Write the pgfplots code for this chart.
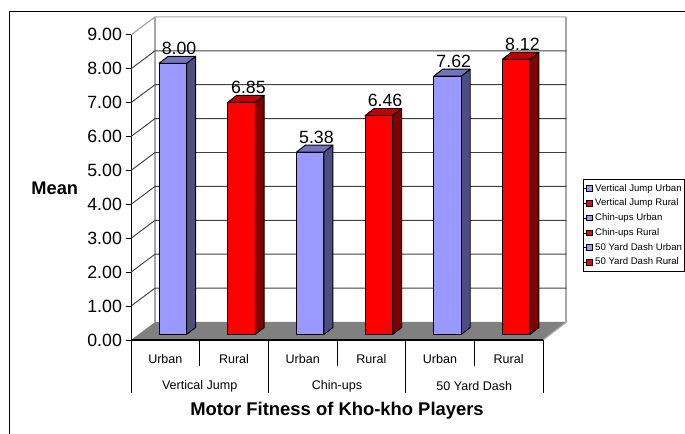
\documentclass[border=0pt]{standalone}
\usepackage{pgfplots}
\pgfplotsset{compat=1.18}
\usepackage{fontspec}
\setmainfont{Liberation Sans}
\definecolor{urbF}{HTML}{9999FF}
\definecolor{urbS}{HTML}{4D4D80}
\definecolor{urbT}{HTML}{7373BF}
\definecolor{rurF}{HTML}{FF0000}
\definecolor{rurS}{HTML}{800000}
\definecolor{rurT}{HTML}{BF0000}
\definecolor{wallc}{HTML}{A6A6A6}
\definecolor{gridc}{HTML}{404040}
\definecolor{floorc}{HTML}{808080}
% one 3-D column: centre, value, front, side, top colours
\newcommand{\colthree}[5]{%
  \pgfmathsetmacro\Lx{#1-0.091}\pgfmathsetmacro\Rx{#1+0.309}%
  \pgfmathsetmacro\Ly{#1+0.040}\pgfmathsetmacro\Ry{#1+0.440}%
  \pgfmathsetmacro\Ta{#2+0.162}\pgfmathsetmacro\Tb{#2+0.368}%
  \edef\tmp{%
  \noexpand\addplot[forget plot,fill=#4,draw=black,line width=0.7pt,line join=round] coordinates {(\Rx,0.162)(\Ry,0.368)(\Ry,\Tb)(\Rx,\Ta)} --cycle;
  \noexpand\addplot[forget plot,fill=#5,draw=black,line width=0.7pt,line join=round] coordinates {(\Lx,\Ta)(\Ly,\Tb)(\Ry,\Tb)(\Rx,\Ta)} --cycle;
  \noexpand\addplot[forget plot,fill=#3,draw=black,line width=0.7pt,line join=round] coordinates {(\Lx,0.162)(\Lx,\Ta)(\Rx,\Ta)(\Rx,0.162)} --cycle;
  }\tmp}
\pgfplotsset{sq/.style={legend image code/.code={%
  \path (0pt,0pt) -- (6.4pt,0pt);
  \draw[fill=#1,draw=black,line width=0.45pt] (2.2pt,-1.9pt) rectangle (6.4pt,2.3pt);}}}
\begin{document}
\begin{tikzpicture}
\path[use as bounding box] (0pt,0pt) rectangle (513.75pt,-325.5pt);
\draw[black,line width=1.1pt] (7.1pt,-325.5pt) -- (7.1pt,-8.6pt) -- (513.75pt,-8.6pt);
\begin{axis}[
  at={(98.25pt,-255pt)},anchor=south west,
  x=51.5pt,y=25.425pt,
  xmin=0,xmax=6,ymin=0,ymax=9,
  axis x line=bottom,axis y line=left,
  axis line style={-,black,line width=0.7pt},
  clip=false,
  ytick={0,1,...,9},
  /pgf/number format/.cd,fixed,fixed zerofill,precision=2,assume math mode=true,/pgfplots/.cd,
  yticklabel style={font=\fontsize{13.3}{15}\selectfont,xshift=0.5pt},
  y tick style={black,line width=0.7pt},
  tick align=outside,major tick length=3.8pt,
  xtick={0.5,1.5,2.5,3.5,4.5,5.5},
  xticklabels={Urban,Rural,Urban,Rural,Urban,Rural},
  x tick style={draw=none},
  xticklabel style={font=\fontsize{9.4}{11}\selectfont,anchor=center,yshift=-10.5pt},
  legend style={at={(axis description cs:1.345,0.5277)},anchor=north east,
    draw=black,line width=0.7pt,font=\fontsize{7.2}{8.5}\selectfont,
    cells={anchor=west,inner xsep=1.2pt},inner xsep=0pt,inner ysep=1.6pt,row sep=0.35pt},
  legend cell align=left,
]
% walls, floor and gridlines
\addplot[forget plot,fill=floorc,draw=none] coordinates {(0,0)(0.35,0.531)(6.34,0.531)(6,0)} --cycle;
\addplot[forget plot,wallc,line width=1.4pt] coordinates {(0.35,0.531)(0.35,9.531)};
\addplot[forget plot,wallc,line width=1.4pt] coordinates {(6.34,0.531)(6.34,9.531)};
\pgfplotsinvokeforeach{1,...,8}{
  \addplot[forget plot,gridc,line width=0.7pt] coordinates {(0,#1)(0.35,#1.531)(6.34,#1.531)};
}
\addplot[forget plot,wallc,line width=0.9pt] coordinates {(0,9)(0.35,9.531)(6.34,9.531)};
\addplot[forget plot,wallc,line width=0.9pt] coordinates {(6,0)(6.34,0.531)};
\addplot[forget plot,black,line width=0.8pt] coordinates {(0,0)(6,0)};
% columns
\colthree{0.5}{8.00}{urbF}{urbS}{urbT}
\colthree{1.5}{6.85}{rurF}{rurS}{rurT}
\colthree{2.5}{5.38}{urbF}{urbS}{urbT}
\colthree{3.5}{6.46}{rurF}{rurS}{rurT}
\colthree{4.5}{7.62}{urbF}{urbS}{urbT}
\colthree{5.5}{8.12}{rurF}{rurS}{rurT}
% value labels
\addplot[forget plot,only marks,mark=none,
  nodes near coords,point meta=explicit symbolic,
  every node near coord/.style={font=\fontsize{13.3}{15}\selectfont,anchor=base,inner sep=0pt,text=black}]
  coordinates {(0.70,8.43)[8.00] (1.71,7.28)[6.85] (2.70,5.81)[5.38] (3.70,6.89)[6.46] (4.70,8.05)[7.62] (5.70,8.55)[8.12]};
% category separators
\pgfplotsinvokeforeach{0,1,2,3,4,5,6}{
  \draw[black,line width=0.7pt] (axis cs:#1,0) -- ++(0pt,-19.5pt);
}
\pgfplotsinvokeforeach{0,2,4,6}{
  \draw[black,line width=0.7pt] (axis cs:#1,0) -- ++(0pt,-39.75pt);
}
\node[font=\fontsize{9.4}{11}\selectfont,anchor=center] at (axis cs:1,-1.37) {Vertical Jump};
\node[font=\fontsize{9.4}{11}\selectfont,anchor=center] at (axis cs:3,-1.37) {Chin-ups};
\node[font=\fontsize{9.4}{11}\selectfont,anchor=center] at (axis cs:5,-1.37) {50 Yard Dash};
\node[font=\bfseries\fontsize{13.8}{15}\selectfont,anchor=center] at (axis cs:3.0,-2.08) {Motor Fitness of Kho-kho Players};
\node[font=\bfseries\fontsize{13.7}{15}\selectfont,anchor=center] at (axis cs:-1.11,4.46) {Mean};
% legend
\addlegendimage{sq=urbF}\addlegendentry{Vertical Jump Urban}
\addlegendimage{sq=rurF}\addlegendentry{Vertical Jump Rural}
\addlegendimage{sq=urbF}\addlegendentry{Chin-ups Urban}
\addlegendimage{sq=rurF}\addlegendentry{Chin-ups Rural}
\addlegendimage{sq=urbF}\addlegendentry{50 Yard Dash Urban}
\addlegendimage{sq=rurF}\addlegendentry{50 Yard Dash Rural}
\end{axis}
\end{tikzpicture}
\end{document}
